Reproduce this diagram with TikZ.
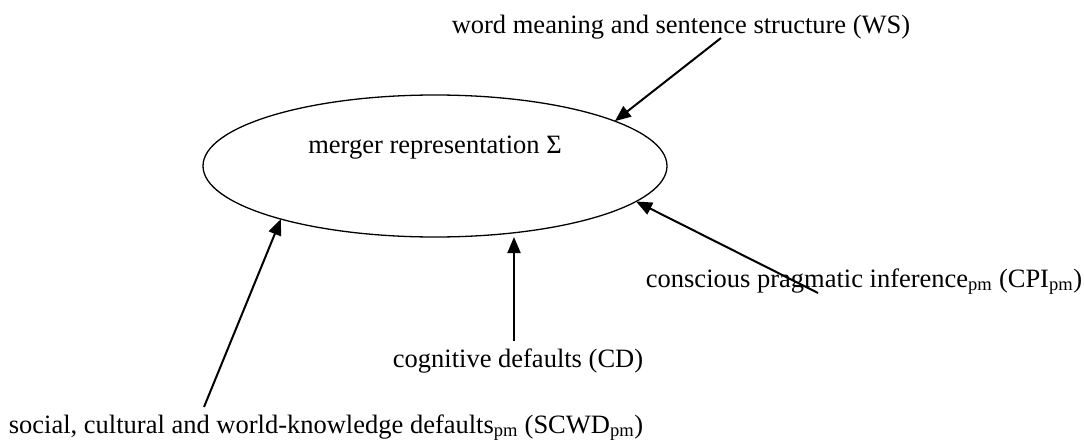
\documentclass[tikz,border=0pt]{standalone}
\usepackage{fontspec}
\setmainfont{Liberation Serif}
\usetikzlibrary{shapes.geometric,arrows.meta}
\begin{document}
\begin{tikzpicture}[x=1pt,y=-1pt,
  src/.style={font=\fontsize{26.5}{30}\selectfont,inner sep=0pt,anchor=base},
  feed/.style={line width=2pt,-{Triangle[length=16pt,width=13pt]}}]
  \useasboundingbox (0,0) rectangle (1084,439);
  \pgfmathsetmacro{\W}{464}
  \pgfmathsetmacro{\H}{142}
  % the merger
  \node[draw,ellipse,line width=1.3pt,minimum width=\W pt,minimum height=\H pt,
    inner sep=0pt,outer sep=0pt] (merger) at (435,166) {};
  \node[src] (sigma) at (435,153) {merger representation Σ};
  % sources
  \node[src] (ws) at (681,33) {word meaning and sentence structure (WS)};
  \node[src] (cpi) at (864,287) {conscious pragmatic inference\textsubscript{pm} (CPI\textsubscript{pm})};
  \node[src] (cd) at (518,367) {cognitive defaults (CD)};
  \node[src] (scwd) at (326,433) {social, cultural and world-knowledge defaults\textsubscript{pm} (SCWD\textsubscript{pm})};
  \coordinate (wsfoot) at (721,38);
  \coordinate (cpifoot) at (818,293);
  \coordinate (cdfoot) at (514,341);
  \coordinate (scwdfoot) at (204,407);
  \draw[feed] (wsfoot) -- (merger.14);
  \draw[feed] (cpifoot) -- (merger.-10);
  \draw[feed] (cdfoot) -- (cdfoot |- merger.south);
  \draw[feed] (scwdfoot) -- (merger.199);
\end{tikzpicture}
\end{document}
